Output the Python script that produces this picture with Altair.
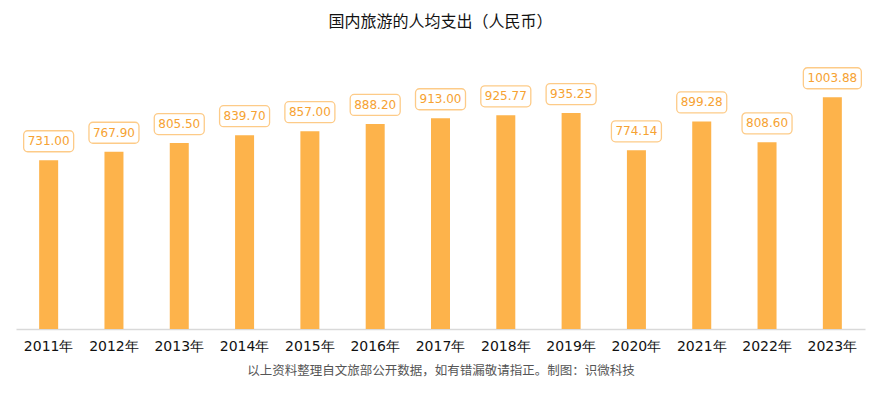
import altair as alt
import pandas as pd

years = ["2011年", "2012年", "2013年", "2014年", "2015年", "2016年", "2017年",
         "2018年", "2019年", "2020年", "2021年", "2022年", "2023年"]
values = [731.00, 767.90, 805.50, 839.70, 857.00, 888.20, 913.00,
          925.77, 935.25, 774.14, 899.28, 808.60, 1003.88]
labels = ["731.00", "767.90", "805.50", "839.70", "857.00", "888.20", "913.00",
          "925.77", "935.25", "774.14", "899.28", "808.60", "1003.88"]

title_text = "国内旅游的人均支出（人民币）"
caption_text = "以上资料整理自文旅部公开数据，如有错漏敬请指正。制图：识微科技"

df = pd.DataFrame({"year": years, "value": values, "label": labels})

BAR = "#FDB34B"
TXT = "#F6A232"
BOX = "#FDCB88"

x = alt.X("year:N", sort=years,
          axis=alt.Axis(title=caption_text, labelAngle=0, ticks=False,
                        labelFontSize=14, labelColor="#111111",
                        labelFont="DejaVu Sans", labelPadding=10,
                        domainColor="#d9d9d9", domainWidth=1.5,
                        titleFontSize=12.5, titleFontWeight="normal",
                        titleColor="#555555", titleFont="Noto Sans CJK SC",
                        titlePadding=11))
y = alt.Y("value:Q", scale=alt.Scale(domain=[0, 1200], nice=False), axis=None)

base = alt.Chart(df).encode(x=x, y=y)

bars = base.mark_bar(size=19, color=BAR)

box_short = base.transform_filter("length(datum.label) <= 6").mark_rect(
    width=50, height=21, cornerRadius=4, fill="white", stroke=BOX,
    strokeWidth=1.3, yOffset=-19)
box_long = base.transform_filter("length(datum.label) > 6").mark_rect(
    width=58, height=21, cornerRadius=4, fill="white", stroke=BOX,
    strokeWidth=1.3, yOffset=-19)

texts = base.mark_text(fontSize=12, color=TXT, font="DejaVu Sans",
                       baseline="middle", yOffset=-19).encode(text="label:N")

chart = alt.layer(bars, box_short, box_long, texts).properties(
    width=849, height=277,
    padding={"left": 8, "top": 6, "right": 7, "bottom": 4},
    title=alt.TitleParams(title_text, fontSize=16, font="Noto Sans CJK SC",
                          fontWeight="normal", color="#111111",
                          anchor="middle", offset=22),
).configure(background="white", view=alt.ViewConfig(stroke=None))

chart.save("out.html", embed_options={"renderer": "svg", "actions": False})
